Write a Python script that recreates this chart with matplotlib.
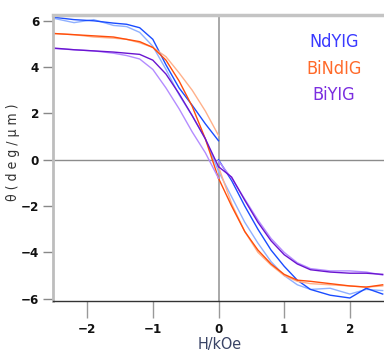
import matplotlib
matplotlib.use("Agg")
import matplotlib.pyplot as plt

# field grid (kOe), left half and right half of the sweep
xl = [-2.5, -2.2, -1.9, -1.6, -1.4, -1.2, -1.0, -0.8, -0.6, -0.4, -0.2, 0.0]
xr = [0.0, 0.2, 0.4, 0.6, 0.8, 1.0, 1.2, 1.4, 1.7, 2.0, 2.25, 2.5]

# NdYIG
nd_dark_l = [6.15, 6.05, 6.0, 5.9, 5.85, 5.7, 5.2, 4.1, 3.1, 2.35, 1.55, 0.82]
nd_dark_r = [0.0, -0.9, -2.0, -3.0, -3.9, -4.6, -5.2, -5.6, -5.85, -5.97, -5.55, -5.8]
nd_light_l = [6.1, 5.92, 6.05, 5.8, 5.75, 5.5, 4.9, 3.9, 2.8, 1.9, 0.9, -0.5]
nd_light_r = [-0.5, -1.6, -2.7, -3.6, -4.4, -5.0, -5.4, -5.6, -5.55, -5.8, -5.6, -5.65]

# BiNdIG
bn_dark_l = [5.45, 5.4, 5.35, 5.3, 5.2, 5.1, 4.85, 4.3, 3.4, 2.3, 0.9, -0.8]
bn_dark_r = [-0.8, -2.0, -3.1, -3.9, -4.5, -4.95, -5.2, -5.25, -5.35, -5.45, -5.5, -5.4]
bn_light_l = [5.45, 5.4, 5.3, 5.25, 5.2, 5.05, 4.85, 4.45, 3.75, 3.0, 2.1, 1.05]
bn_light_r = [-0.3, -1.9, -3.1, -4.0, -4.55, -5.0, -5.25, -5.35, -5.4, -5.45, -5.5, -5.45]

# BiYIG
by_dark_l = [4.82, 4.75, 4.7, 4.65, 4.6, 4.55, 4.3, 3.7, 2.85, 1.9, 0.9, -0.3]
by_dark_r = [-0.3, -0.75, -1.75, -2.7, -3.5, -4.1, -4.5, -4.75, -4.85, -4.9, -4.9, -4.95]
by_light_l = [4.8, 4.75, 4.7, 4.6, 4.5, 4.35, 3.9, 3.1, 2.2, 1.2, 0.3, -0.8]
by_light_r = [-0.05, -0.8, -1.7, -2.6, -3.4, -4.0, -4.45, -4.7, -4.8, -4.8, -4.85, -4.98]

labels = ["NdYIG", "BiNdIG", "BiYIG"]
label_colors = ["#3a3aff", "#ff6a2a", "#7b2ee0"]

fig = plt.figure(figsize=(3.84, 3.51), dpi=100)
ax = fig.add_axes([53/384, 1-301/351, 1-53/384, (301-15)/351])

lines = [
    (nd_light_l, nd_light_r, "#8fb0ff"),
    (nd_dark_l, nd_dark_r, "#1a4cff"),
    (bn_light_l, bn_light_r, "#ffb08a"),
    (bn_dark_l, bn_dark_r, "#ff4d0a"),
    (by_light_l, by_light_r, "#b48cff"),
    (by_dark_l, by_dark_r, "#6a14d0"),
]
for yl, yr, c in lines:
    ax.plot(xl, yl, color=c, lw=1)
    ax.plot(xr, yr, color=c, lw=1)

ax.axhline(0, color="#8c8c8c", lw=1, zorder=0)
ax.axvline(0, color="#9a9a9a", lw=1.2, zorder=0)

ax.set_xlim(-2.52, 2.52)
ax.set_ylim(-6.1, 6.25)

ax.spines["right"].set_visible(False)
ax.spines["left"].set_color("#bdbdbd")
ax.spines["left"].set_linewidth(2)
ax.spines["top"].set_color("#c4c4c4")
ax.spines["top"].set_linewidth(2.5)
ax.spines["bottom"].set_color("#333333")
ax.spines["bottom"].set_linewidth(1)

ax.set_xticks([-2, -1, 0, 1, 2])
ax.set_yticks([-6, -4, -2, 0, 2, 4, 6])
ax.tick_params(axis="x", length=12, width=1, color="#999999", pad=4)
ax.tick_params(axis="y", length=7, width=1, color="#888888", pad=3)
for t in ax.get_xticklabels() + ax.get_yticklabels():
    t.set_fontfamily("DejaVu Sans")
    t.set_fontstretch("condensed")
    t.set_fontweight("bold")
    t.set_fontsize(9.5)
    t.set_color("#111111")

fig.text(13/384, 1-152/351, "θ ( d e g / μ m )", rotation=90, ha="center", va="center",
         fontsize=10, family="DejaVu Sans", stretch="condensed", color="#333333")
fig.text(220/384, 1-344/351, "H/kOe", ha="center", va="center", fontsize=11.5,
         family="DejaVu Sans", stretch="condensed", color="#3a4466")

for i, (lab, col) in enumerate(zip(labels, label_colors)):
    fig.text(334/384, 1-(42+26.5*i)/351, lab, ha="center", va="center", fontsize=13,
             family="DejaVu Sans", stretch="condensed", color=col)

fig.savefig("out.png", dpi=100)
